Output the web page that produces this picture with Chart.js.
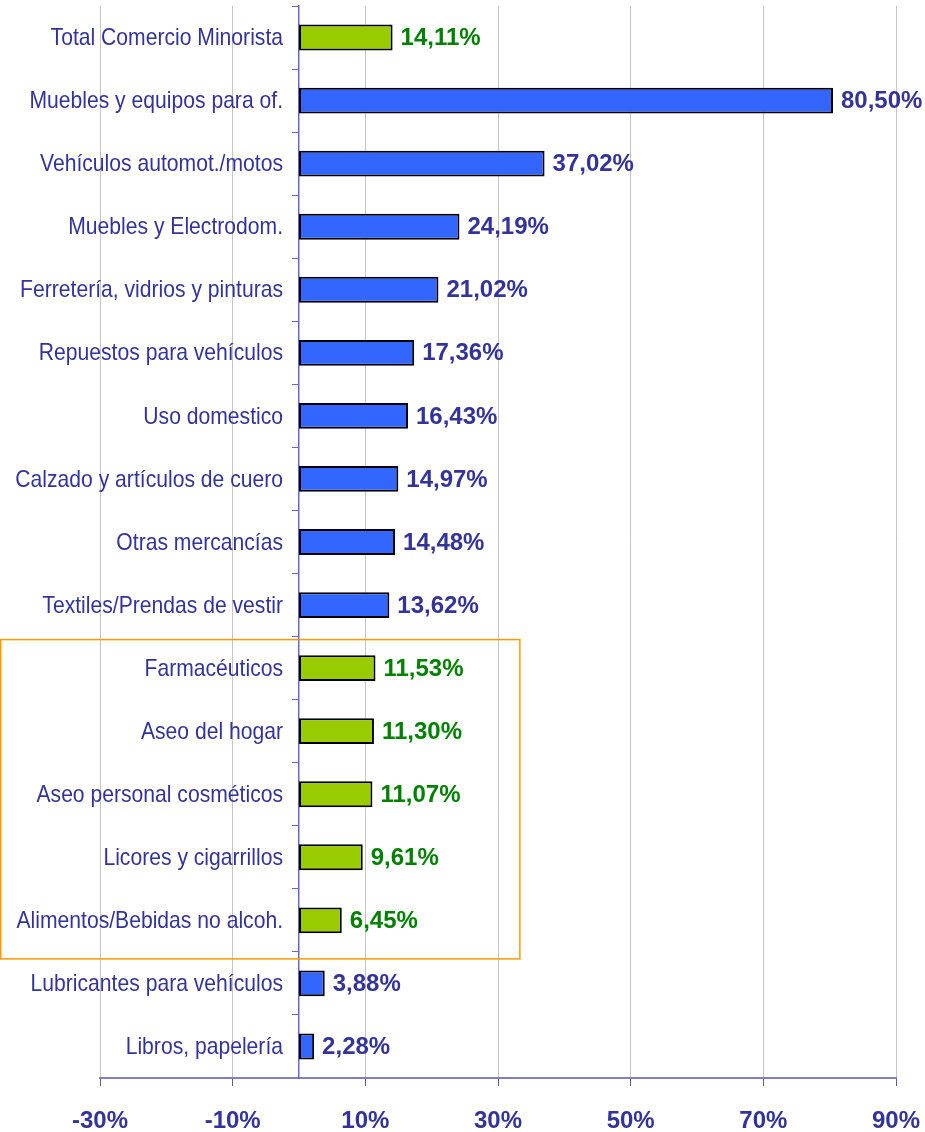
<!DOCTYPE html>
<html>
<head>
<meta charset="utf-8">
<script src="https://cdn.jsdelivr.net/npm/chart.js@4.4.1/dist/chart.umd.min.js"></script>
<style>
  html, body { margin: 0; padding: 0; background: #ffffff; }
  #wrap { width: 925px; height: 1132px; position: relative; }
</style>
</head>
<body>
<div id="wrap"><canvas id="ventasChart" width="925" height="1132"></canvas></div>
<script>
const categories = [
  'Total Comercio Minorista',
  'Muebles y equipos para of.',
  'Vehículos automot./motos',
  'Muebles y Electrodom.',
  'Ferretería, vidrios y pinturas',
  'Repuestos para vehículos',
  'Uso domestico',
  'Calzado y artículos de cuero',
  'Otras mercancías',
  'Textiles/Prendas de vestir',
  'Farmacéuticos',
  'Aseo del hogar',
  'Aseo personal cosméticos',
  'Licores y cigarrillos',
  'Alimentos/Bebidas no alcoh.',
  'Lubricantes para vehículos',
  'Libros, papelería'
]
const values = [14.11, 80.50, 37.02, 24.19, 21.02, 17.36, 16.43, 14.97, 14.48, 13.62, 11.53, 11.30, 11.07, 9.61, 6.45, 3.88, 2.28]
// categories drawn in green (total + the boxed group)
const greenCategories = ['Total Comercio Minorista', 'Farmacéuticos', 'Aseo del hogar', 'Aseo personal cosméticos', 'Licores y cigarrillos', 'Alimentos/Bebidas no alcoh.']
const boxedCategories = ['Farmacéuticos', 'Aseo del hogar', 'Aseo personal cosméticos', 'Licores y cigarrillos', 'Alimentos/Bebidas no alcoh.']
const xTicks = [-30, -10, 10, 30, 50, 70, 90]

const navy = '#333399'
const green = '#008000'
const fontFamily = '"Liberation Sans", Arial, sans-serif'

const isGreen = categories.map(c => greenCategories.includes(c))

function formatPct (v) {
  return v.toFixed(2).replace('.', ',') + '%'
}

// category names, right aligned just left of the zero line (a bit condensed, like the original)
const categoryLabels = {
  id: 'categoryLabels',
  afterDraw (chart) {
    const y = chart.scales.y
    const zero = chart.scales.x.getPixelForValue(0)
    const squeeze = 0.88
    const ctx = chart.ctx
    ctx.save()
    ctx.font = '24px ' + fontFamily
    ctx.fillStyle = navy
    ctx.textAlign = 'right'
    ctx.textBaseline = 'middle'
    ctx.translate(zero - 16, 0)
    ctx.scale(squeeze, 1)
    categories.forEach((c, i) => {
      ctx.fillText(c, 0, y.getPixelForValue(i) + 1)
    })
    ctx.restore()
  }
}

const valueLabels = {
  id: 'valueLabels',
  afterDatasetsDraw (chart) {
    const ctx = chart.ctx
    const meta = chart.getDatasetMeta(0)
    ctx.save()
    ctx.font = 'bold 24px ' + fontFamily
    ctx.textAlign = 'left'
    ctx.textBaseline = 'middle'
    meta.data.forEach((bar, i) => {
      ctx.fillStyle = isGreen[i] ? green : navy
      ctx.fillText(formatPct(values[i]), bar.x + 8, bar.y + 1)
    })
    ctx.restore()
  }
}

const groupBox = {
  id: 'groupBox',
  afterDraw (chart) {
    const y = chart.scales.y
    const x = chart.scales.x
    const first = categories.indexOf(boxedCategories[0])
    const last = categories.indexOf(boxedCategories[boxedCategories.length - 1])
    const top = (y.getPixelForValue(first - 1) + y.getPixelForValue(first)) / 2 + 3
    const bottom = (y.getPixelForValue(last) + y.getPixelForValue(last + 1)) / 2 + 7
    const right = x.getPixelForValue(33.3)
    const ctx = chart.ctx
    ctx.save()
    ctx.strokeStyle = '#ff9900'
    ctx.lineWidth = 1.5
    ctx.strokeRect(0.75, top, right - 0.75, bottom - top)
    ctx.restore()
  }
}

const ctx = document.getElementById('ventasChart').getContext('2d')
new Chart(ctx, {
  type: 'bar',
  data: {
    labels: categories,
    datasets: [{
      data: values,
      backgroundColor: isGreen.map(g => (g ? '#99cc00' : '#3366ff')),
      borderColor: '#000000',
      borderWidth: 2,
      borderSkipped: false,
      categoryPercentage: 1,
      barPercentage: 0.41
    }]
  },
  options: {
    indexAxis: 'y',
    responsive: false,
    animation: false,
    layout: { padding: { left: 100, right: 29, top: 6, bottom: 0 } },
    plugins: {
      legend: { display: false },
      tooltip: { enabled: false }
    },
    scales: {
      x: {
        type: 'linear',
        min: -30,
        max: 90,
        afterBuildTicks: (scale) => { scale.ticks = xTicks.map(v => ({ value: v })) },
        afterFit: (scale) => {
          scale.height = 54
          scale.paddingLeft = 0
          scale.paddingRight = 0
        },
        grid: { color: '#c4c4c4', lineWidth: 1, tickColor: '#5555aa', tickLength: 8 },
        border: { color: '#8080c0', width: 2 },
        ticks: {
          color: navy,
          padding: 21,
          maxRotation: 0,
          font: { family: fontFamily, size: 24, weight: 'bold' },
          callback: v => v + '%'
        }
      },
      y: {
        position: { x: 0 },
        grid: { drawOnChartArea: false, tickColor: '#6666cc', tickLength: 6, offset: true },
        border: { color: '#6666cc', width: 1.5 },
        ticks: { display: false }
      }
    }
  },
  plugins: [valueLabels, groupBox, categoryLabels]
})
</script>
</body>
</html>
